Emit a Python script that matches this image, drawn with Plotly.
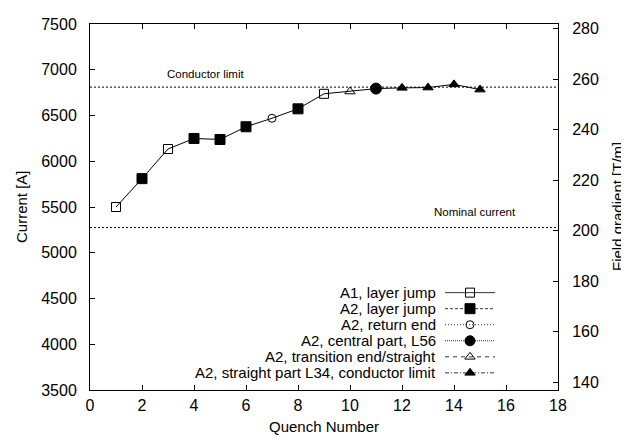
import plotly.graph_objects as go

# ---------------- data ----------------
quench = list(range(1, 16))
current = [5500, 5810, 6134, 6249, 6238, 6377, 6470, 6573, 6737, 6762, 6794, 6802, 6805, 6840, 6783]

series_names = [
    "A1, layer jump",
    "A2, layer jump",
    "A2, return end",
    "A2, central part, L56",
    "A2, transition end/straight",
    "A2, straight part L34, conductor limit",
]
series_quench = [
    [1, 3, 9],
    [2, 4, 5, 6, 8],
    [7],
    [11],
    [10],
    [12, 13, 14, 15],
]
series_symbols = ["square-open", "square", "circle-open", "circle", "triangle-up-open", "triangle-up"]
series_sizes = [9, 10, 8, 11, 9, 9]
series_dash = ["solid", "3px,2px", "1px,2px", "1px,1px", "4px,4px", "4px,2px,1px,2px"]

conductor_limit = 6810
nominal_current = 5275

x_range = [0, 18]
y_range = [3500, 7500]
y2_range = [136.9, 281.9]

x_title = "Quench Number"
y_title = "Current [A]"
y2_title = "Field gradient [T/m]"

FONT = "Liberation Sans, Arial, sans-serif"

# The page body has an 8px margin: the figure is drawn 8px right/down of the window corner.
OFF = 8
W, H = 629 - OFF, 441 - OFF
# plot-area box in window pixels
PX_L, PX_R, PX_T, PX_B = 90, 558, 16, 390


def px(xp, yp):
    """window pixel position -> paper coordinates"""
    return (xp - PX_L) / (PX_R - PX_L), (PX_B - yp) / (PX_B - PX_T)


fig = go.Figure()

# connecting line through all quenches
fig.add_trace(go.Scatter(x=quench, y=current, mode="lines",
                         line=dict(color="black", width=1), showlegend=False, hoverinfo="skip"))

cur_of = dict(zip(quench, current))
for name, qs, sym, sz in zip(series_names, series_quench, series_symbols, series_sizes):
    fig.add_trace(go.Scatter(
        x=qs, y=[cur_of[q] for q in qs], mode="markers", name=name,
        marker=dict(symbol=sym, size=sz, color="black", line=dict(color="black", width=1)),
        showlegend=False))

# dummy trace to activate y2
fig.add_trace(go.Scatter(x=[None], y=[None], yaxis="y2", showlegend=False))

# ---------------- custom legend (text to the left of the sample) ----------------
row_y0, row_dy = 290.5, 16.4
samp_x0, samp_x1 = 445, 495
text_x = 438
for i, (name, sym, sz, dash) in enumerate(zip(series_names, series_symbols, series_sizes, series_dash)):
    yy = row_y0 + i * row_dy
    fig.add_trace(go.Scatter(x=[samp_x0, samp_x1], y=[yy, yy], mode="lines", xaxis="x3", yaxis="y3",
                             line=dict(color="black", width=0.8, dash=dash), showlegend=False, hoverinfo="skip"))
    fig.add_trace(go.Scatter(x=[(samp_x0 + samp_x1) / 2], y=[yy], mode="markers", xaxis="x3", yaxis="y3",
                             marker=dict(symbol=sym, size=min(sz, 10), color="black", line=dict(color="black", width=1)),
                             showlegend=False, hoverinfo="skip"))
    fig.add_annotation(x=text_x, y=yy, xref="x3", yref="y3", text=name, showarrow=False,
                       xanchor="right", yanchor="middle", font=dict(size=15, color="black", family=FONT))

# ---------------- reference lines ----------------
for val in (conductor_limit, nominal_current):
    fig.add_shape(type="line", xref="paper", yref="y", x0=0, x1=1, y0=val, y1=val,
                  line=dict(color="black", width=1, dash="2px,2px"))

fig.add_annotation(x=205, y=67, xref="x3", yref="y3", text="Conductor limit", showarrow=False,
                   xanchor="center", yanchor="middle", font=dict(size=11.5, color="black", family=FONT))
fig.add_annotation(x=518, y=208, xref="x3", yref="y3", text="Nominal current", showarrow=False,
                   xanchor="right", yanchor="middle", font=dict(size=11.5, color="black", family=FONT))

# ---------------- axis titles ----------------
tx, ty = px((PX_L + PX_R) / 2, 427)
fig.add_annotation(x=tx, y=ty, xref="paper", yref="paper", text=x_title, showarrow=False,
                   xanchor="center", yanchor="middle", font=dict(size=15, color="black", family=FONT))
tx, ty = px(21, (PX_T + PX_B) / 2)
fig.add_annotation(x=tx, y=ty, xref="paper", yref="paper", text=y_title, showarrow=False,
                   textangle=-90, xanchor="center", yanchor="middle", font=dict(size=15, color="black", family=FONT))
tx, ty = px(617, (PX_T + PX_B) / 2)
fig.add_annotation(x=tx, y=ty, xref="paper", yref="paper", text=y2_title, showarrow=False,
                   textangle=-90, xanchor="center", yanchor="middle", font=dict(size=15, color="black", family=FONT))

axis_common = dict(showgrid=False, zeroline=False, showline=True, linecolor="black", linewidth=1,
                   ticks="inside", ticklen=5, tickcolor="black",
                   tickfont=dict(size=16, color="black", family=FONT))

fig.update_layout(
    width=W, height=H,
    margin=dict(l=PX_L - OFF, r=629 - PX_R, t=PX_T - OFF, b=441 - PX_B),
    paper_bgcolor="white", plot_bgcolor="white",
    font=dict(family=FONT, color="black"),
    showlegend=False,
    xaxis=dict(range=x_range, dtick=2, mirror="ticks", ticklabelstandoff=1, **axis_common),
    yaxis=dict(range=y_range, dtick=500, mirror=True, ticklabelstandoff=9, **axis_common),
    yaxis2=dict(range=y2_range, dtick=20, overlaying="y", side="right", ticklabelstandoff=10, **axis_common),
    xaxis3=dict(range=[PX_L, PX_R], overlaying="x", visible=False, fixedrange=True),
    yaxis3=dict(range=[PX_B, PX_T], overlaying="y", visible=False, fixedrange=True),
)

fig.write_html("out.html")
